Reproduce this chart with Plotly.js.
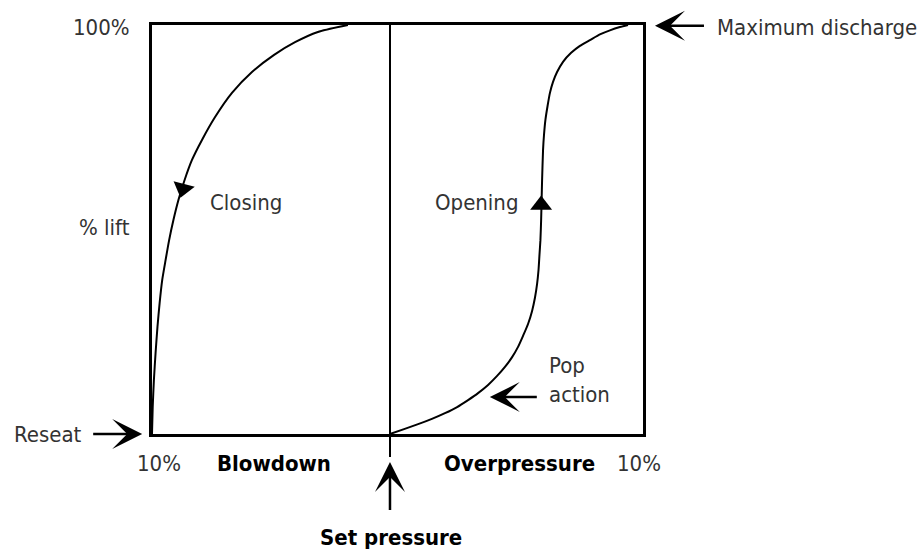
<!DOCTYPE html>
<html>
<head>
<meta charset="utf-8">
<script src="https://cdn.plot.ly/plotly-3.0.1.min.js"></script>
<style>html,body{margin:0;padding:0;background:#fff;}#chart{width:917px;height:552px;}</style>
</head>
<body>
<div id="chart"></div>
<script>
// Pressure relative to set pressure (%), % lift
const closingX = [-1.77, -3.03, -3.99, -4.87, -5.8, -6.64, -7.35, -7.9, -8.32, -8.63, -8.89, -9.1, -9.28, -9.43, -9.57, -9.68, -9.77, -9.85, -9.92, -9.97, -10];
const closingY = [100, 98.3, 95.8, 92.7, 88.5, 83.4, 77.5, 71.9, 67.0, 62.1, 57.2, 52.3, 47.4, 42.5, 37.7, 32.0, 26.2, 19.8, 13.2, 6.6, 0];
const openingX = [0, 0.59, 1.18, 1.76, 2.31, 2.82, 3.28, 3.70, 4.12, 4.50, 4.83, 5.13, 5.38, 5.59, 5.80, 5.97, 6.09, 6.18, 6.24, 6.28,
                  6.32, 6.35, 6.37, 6.39, 6.43, 6.47, 6.53, 6.62, 6.72, 6.85, 7.02, 7.27, 7.61, 7.98, 8.40, 8.82, 9.24, 9.66, 10.0];
const openingY = [0, 1.2, 2.4, 3.7, 5.1, 6.6, 8.3, 10.0, 12.0, 14.2, 16.4, 18.8, 21.3, 24.0, 26.9, 30.1, 33.3, 36.7, 40.1, 43.8,
                  47.4, 52.3, 57.2, 62.1, 69.4, 73.1, 76.8, 80.2, 83.4, 86.1, 88.5, 91.0, 93.2, 94.9, 96.3, 97.7, 98.7, 99.5, 100];
const closingArrowX = [-8.7];
const closingArrowY = [60];
const openingArrowX = [6.35];
const openingArrowY = [56];
const setPressureX = 0;

const REG = '"Liberation Sans Narrow", "Arial Narrow", "DejaVu Sans Condensed", sans-serif';
const regFont = {family: REG, size: 22, color: '#333'};
const boldFont = {family: REG, size: 22, color: '#000', weight: 'bold'};

const traces = [
  {x: closingX, y: closingY, mode: 'lines', line: {color: '#000', width: 2, shape: 'spline', smoothing: 0.6}, hoverinfo: 'skip'},
  {x: openingX, y: openingY, mode: 'lines', line: {color: '#000', width: 2, shape: 'spline', smoothing: 0.6}, hoverinfo: 'skip'},
  {x: closingArrowX, y: closingArrowY, mode: 'markers', cliponaxis: false,
   marker: {symbol: 'triangle-down', size: 19, color: '#000', angle: 15}, hoverinfo: 'skip'},
  {x: openingArrowX, y: openingArrowY, mode: 'markers', cliponaxis: false,
   marker: {symbol: 'triangle-up', size: 19, color: '#000'}, hoverinfo: 'skip'}
];

function arrow(x, y, ax, ay) {
  return {xref: 'paper', yref: 'paper', x: x, y: y, ax: ax, ay: ay, text: ' ', showarrow: true,
          arrowhead: 3, arrowsize: 2.0, arrowwidth: 2.5, arrowcolor: '#000', standoff: 0};
}
function label(text, x, y, xanchor, font) {
  return {xref: 'paper', yref: 'paper', x: x, y: y, text: text, showarrow: false,
          xanchor: xanchor, yanchor: 'middle', font: font, align: 'left'};
}

const layout = {
  width: 917, height: 552,
  margin: {l: 152, r: 274, t: 25, b: 118},
  paper_bgcolor: '#fff', plot_bgcolor: '#fff',
  showlegend: false,
  xaxis: {range: [-10, 10.63], showgrid: false, zeroline: false, showticklabels: false, ticks: '',
          showline: true, mirror: true, linecolor: '#000', linewidth: 3, fixedrange: true},
  yaxis: {range: [0, 100], showgrid: false, zeroline: false, showticklabels: false, ticks: '',
          showline: true, mirror: true, linecolor: '#000', linewidth: 3, fixedrange: true},
  shapes: [
    {type: 'line', xref: 'x', yref: 'paper', x0: setPressureX, x1: setPressureX, y0: -0.056, y1: 1,
     line: {color: '#000', width: 2}}
  ],
  annotations: [
    label('100%', -0.04, 0.995, 'right', regFont),
    label('% lift', -0.04, 0.506, 'right', regFont),
    label('Closing', 0.114, 0.567, 'left', regFont),
    label('Opening', 0.572, 0.567, 'left', regFont),
    label('Maximum discharge', 1.146, 0.995, 'left', regFont),
    label('Reseat', -0.285, 0.0, 'left', regFont),
    label('10%', 0.0143, -0.071, 'center', regFont),
    label('Blowdown', 0.2475, -0.071, 'center', boldFont),
    label('Overpressure', 0.748, -0.071, 'center', boldFont),
    label('10%', 0.992, -0.071, 'center', regFont),
    label('Set pressure', 0.4868, -0.254, 'center', boldFont),
    label('Pop<br>action', 0.8045, 0.132, 'left', regFont),
    arrow(1.0244, 0.998, 52, 0),
    arrow(-0.02, 0.0, -52, 0),
    arrow(0.4847, -0.0685, 0, 58),
    arrow(0.688, 0.0905, 50, 0)
  ]
};

Plotly.newPlot('chart', traces, layout, {displayModeBar: false, staticPlot: true});
</script>
</body>
</html>
